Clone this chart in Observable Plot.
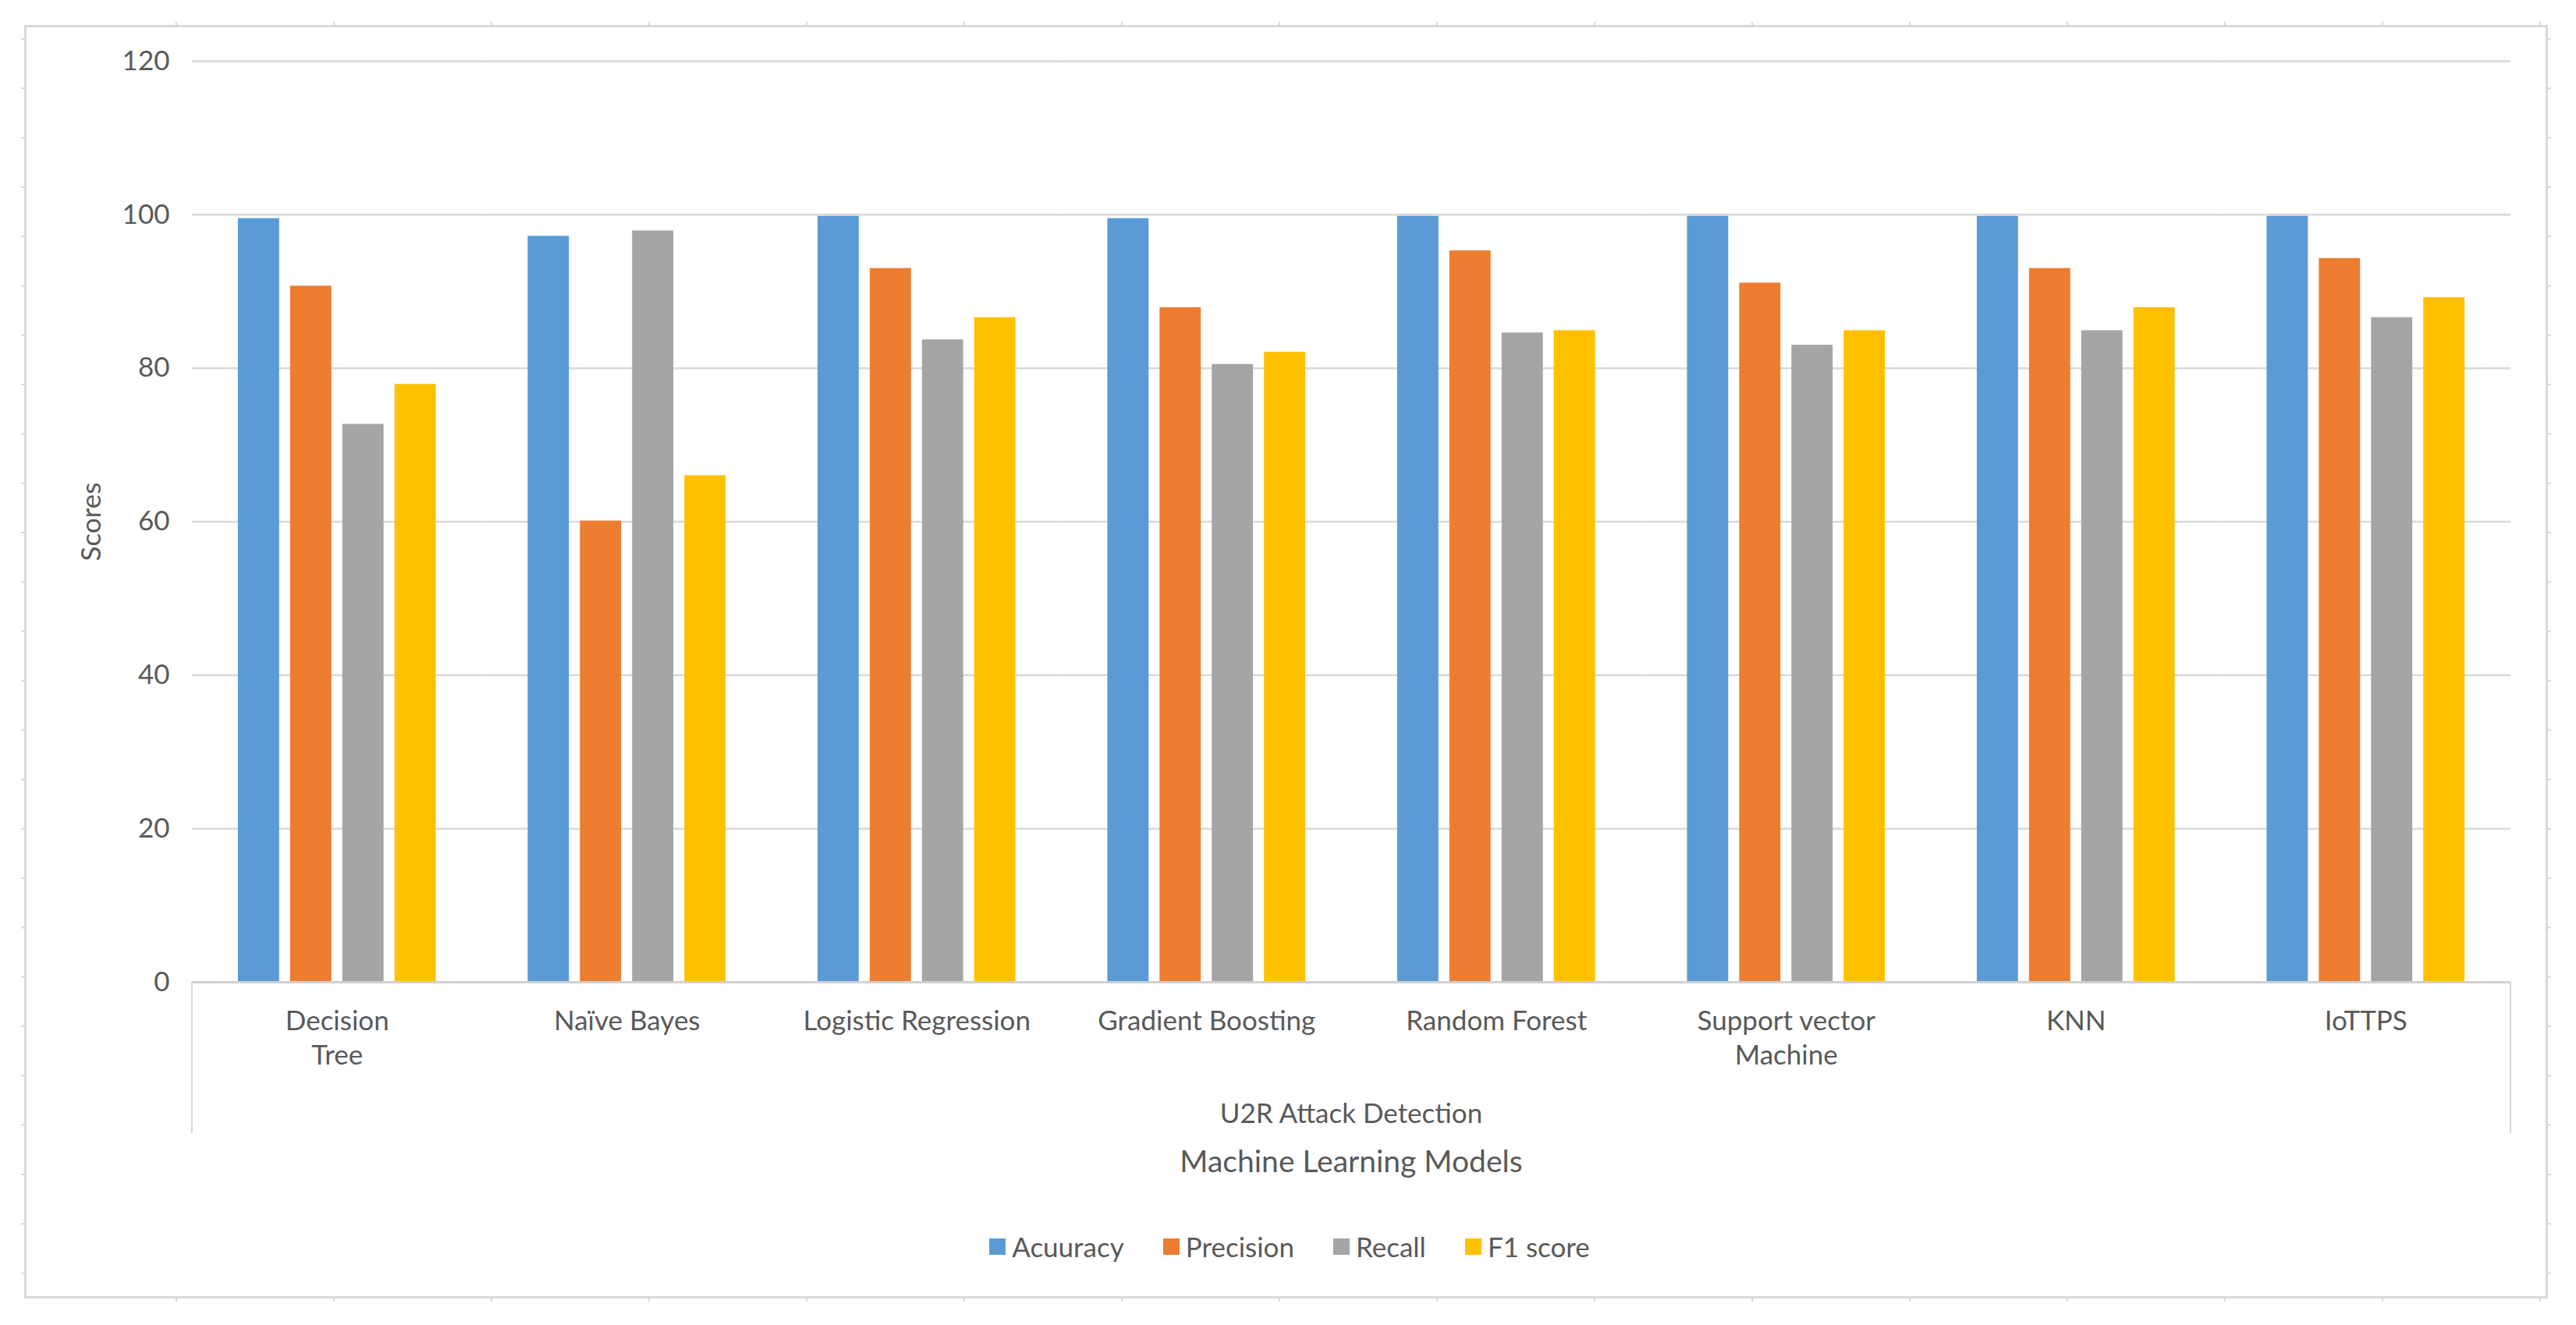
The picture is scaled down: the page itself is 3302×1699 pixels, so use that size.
<!DOCTYPE html>
<html><head><meta charset="utf-8">
<script src="https://cdn.jsdelivr.net/npm/d3@7"></script>
<script src="https://cdn.jsdelivr.net/npm/@observablehq/plot@0.6"></script>
<style>
html,body{margin:0;padding:0;background:#fff;width:3302px;height:1699px;overflow:hidden;font-family:Lato,"Open Sans",sans-serif;color:#595959;}
#wrap{position:relative;width:3302px;height:1699px;}
#chart{position:absolute;left:0;top:0;}
#frame{position:absolute;left:31px;top:32px;width:3229px;height:1627px;border:3px solid #d9d9d9;pointer-events:none;}
#deco{position:absolute;left:0;top:0;pointer-events:none;}
#box{position:absolute;left:245px;top:1259px;width:2974px;height:194px;border-left:2px solid #d9d9d9;border-right:2px solid #d9d9d9;box-sizing:border-box;}
.ttl{position:absolute;left:246px;width:2972px;text-align:center;line-height:44px;color:#595959;white-space:nowrap;}
#legend{position:absolute;left:2px;width:3302px;top:1576px;display:flex;justify-content:center;}
#legend .lg-swatches{font-size:35px !important;color:#595959;font-family:Lato,sans-serif;min-height:44px;margin:0 !important;}
#legend .lg-swatch{margin-right:50px !important;}
#legend .lg-swatch:last-child{margin-right:0 !important;}
#legend .lg-swatch svg{margin-right:8px !important;}
</style></head>
<body>
<div id="wrap">
  <div id="chart"></div>
  <div id="box"></div>
  <div class="ttl" style="top:1404px;font-size:35px">U2R Attack Detection</div>
  <div class="ttl" style="top:1466px;font-size:39px">Machine Learning Models</div>
  <div id="legend"></div>
  <div id="frame"></div>
  <svg id="deco" width="3302" height="1699"></svg>
</div>
<script>
const models = ["Decision Tree","Naïve Bayes","Logistic Regression","Gradient Boosting","Random Forest","Support vector Machine","KNN","IoTTPS"];
const modelLabels = ["Decision\nTree","Naïve Bayes","Logistic Regression","Gradient Boosting","Random Forest","Support vector\nMachine","KNN","IoTTPS"];
const metrics = ["Acuuracy","Precision","Recall","F1 score"];
const accuracy  = [99.5, 97.2, 99.8, 99.5, 99.8, 99.8, 99.8, 99.8];
const precision = [90.7, 60.1, 93.0, 87.9, 95.3, 91.1, 93.0, 94.3];
const recall    = [72.7, 97.9, 83.7, 80.5, 84.6, 83.0, 84.9, 86.6];
const f1score   = [77.9, 66.0, 86.6, 82.1, 84.9, 84.9, 87.9, 89.2];
const colors = ["#5B9BD5","#ED7D31","#A5A5A5","#FFC000"];
const yTicks = [0,20,40,60,80,100,120];

const series = [accuracy, precision, recall, f1score];
const data = [];
models.forEach((m,i) => metrics.forEach((k,j) => data.push({model:m, metric:k, value:series[j][i]})));

const W = 3302, H = 1540;
const plot = Plot.plot({
  width: W, height: H,
  marginLeft: 246, marginRight: 84, marginTop: 78, marginBottom: H - 1259,
  style: {fontFamily: "Lato, sans-serif", fontSize: "35px", color: "#595959", background: "transparent", overflow: "visible"},
  fx: {domain: models, padding: 0, round: false, axis: null},
  x: {domain: metrics, paddingInner: 0.21, paddingOuter: 0.88, round: false, axis: null},
  y: {domain: [0,120]},
  color: {domain: metrics, range: colors},
  marks: [
    Plot.ruleY(yTicks.slice(1), {stroke: "#d9d9d9", strokeWidth: 2.5}),
    Plot.barY(data, {fx: "model", x: "metric", y: "value", fill: "metric"}),
    Plot.ruleY([0], {stroke: "#d0d0d0", strokeWidth: 3}),
    Plot.axisY({ticks: yTicks, tickSize: 0, tickPadding: 29, fontSize: 35, fill: "#595959",
                label: "Scores", labelAnchor: "center", labelOffset: 142, labelArrow: false}),
    Plot.text(models, {fx: d => d, text: modelLabels, frameAnchor: "bottom", lineAnchor: "top",
                       dy: 30, lineHeight: 1.26, fill: "#595959", fontSize: 35})
  ]
});
document.getElementById("chart").appendChild(plot);

const leg = Plot.legend({color: {domain: metrics, range: colors, type: "categorical"}, swatchSize: 21, className: "lg"});
document.getElementById("legend").appendChild(leg);

// chart-area ruler stubs outside the frame
const deco = d3.select("#deco");
const g = deco.append("g").attr("stroke", "#d9d9d9").attr("stroke-width", 2);
d3.range(226, 3262, 202).forEach(x => {
  g.append("line").attr("x1", x).attr("x2", x).attr("y1", 28).attr("y2", 32);
  g.append("line").attr("x1", x).attr("x2", x).attr("y1", 1665).attr("y2", 1669);
});
d3.range(50, 1660, 63.3).forEach(y => {
  g.append("line").attr("x1", 27).attr("x2", 31).attr("y1", y).attr("y2", y);
  g.append("line").attr("x1", 3266).attr("x2", 3270).attr("y1", y).attr("y2", y);
});
</script>
</body></html>
